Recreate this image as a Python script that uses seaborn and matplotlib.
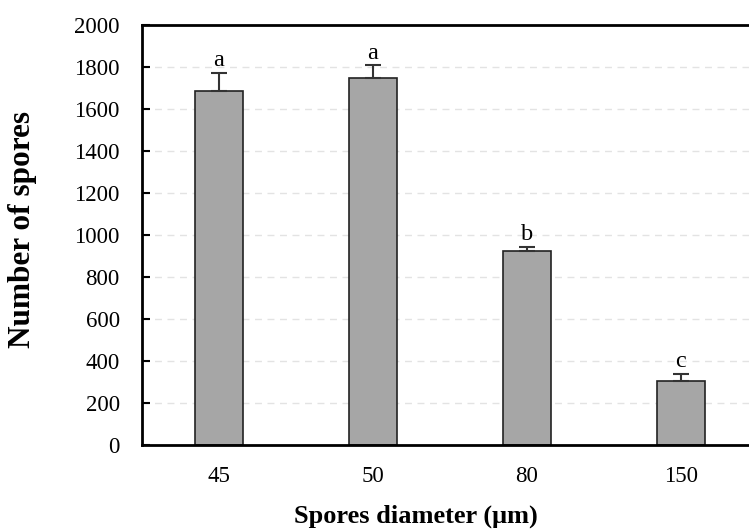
import numpy as np
import pandas as pd
import matplotlib
matplotlib.use("Agg")
import matplotlib.pyplot as plt
import seaborn as sns

# values
diameters = ["45", "50", "80", "150"]
spores = [1687, 1748, 924, 305]
spores_err = [86, 60, 19, 35]
letters = ["a", "a", "b", "c"]

df = pd.DataFrame({"diameter": diameters, "spores": spores})

sns.set_style("white")
plt.rcParams["font.family"] = ["Liberation Serif", "DejaVu Serif"]
plt.rcParams["text.color"] = "black"
plt.rcParams["axes.labelcolor"] = "black"
plt.rcParams["xtick.color"] = "black"
plt.rcParams["ytick.color"] = "black"

fig = plt.figure(figsize=(7.49, 5.32), dpi=100)
ax = fig.add_axes([142 / 749, 87 / 532, 616 / 749, 420 / 532])

sns.barplot(data=df, x="diameter", y="spores", color="#A6A6A6",
            edgecolor="#222222", linewidth=1.2, width=0.31,
            saturation=1, errorbar=None, ax=ax)

x = np.arange(len(diameters))
ax.errorbar(x, spores, yerr=[np.zeros(len(spores)), spores_err],
            fmt="none", ecolor="#333333", elinewidth=1.5, capsize=6,
            capthick=1.5, zorder=3)

for xi, v, e, lab in zip(x, spores, spores_err, letters):
    ax.text(xi, v + e + 8, lab, ha="center", va="bottom", fontsize=17.5)

ax.set_ylim(0, 2000)
ax.set_xlim(-0.5, len(diameters) - 0.5)
ax.set_yticks(range(0, 2001, 200))
ax.yaxis.grid(True, linestyle=(0, (5, 4)), color="#E3E3E3", linewidth=1)
ax.set_axisbelow(True)

# category-boundary ticks on x, labels in between
ax.set_xticks(x)
ax.set_xticklabels(diameters)
ax.tick_params(axis="x", which="major", length=0, pad=15, labelsize=16.5)
ax.set_xticks(np.arange(0.5, len(diameters) - 0.5, 1), minor=True)
ax.tick_params(axis="x", which="minor", direction="in", length=6, width=1.5,
               color="black")
ax.tick_params(axis="y", direction="in", length=6, width=1.5, labelsize=16.5,
               pad=16, left=True)

for side in ["left", "bottom", "top", "right"]:
    ax.spines[side].set_color("black")
    ax.spines[side].set_linewidth(2)

ax.set_xlabel("Spores diameter (μm)", fontsize=19, fontweight="bold")
ax.set_ylabel("Number of spores", fontsize=22.5, fontweight="bold")
ax.xaxis.set_label_coords(0.445, -0.143)
ax.yaxis.set_label_coords(-0.170, 0.512)

fig.savefig("out.png", dpi=100)
